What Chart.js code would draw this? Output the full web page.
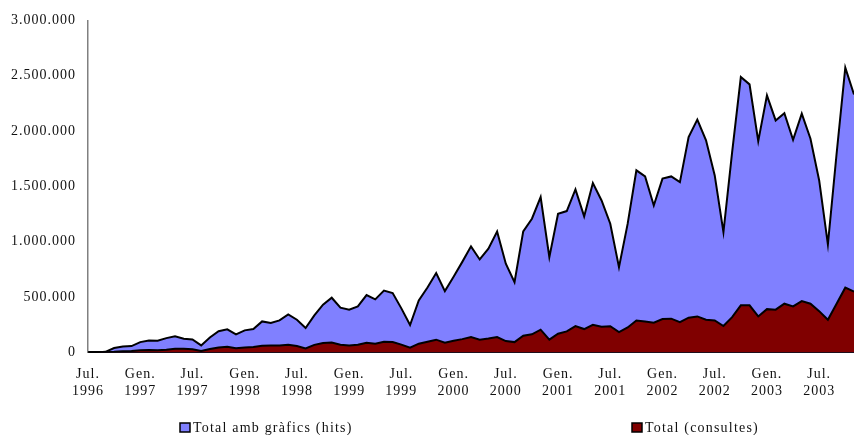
<!DOCTYPE html>
<html>
<head>
<meta charset="utf-8">
<script src="https://cdn.jsdelivr.net/npm/chart.js@4.4.1/dist/chart.umd.min.js"></script>
<style>
    html, body { margin: 0; padding: 0; background: #fff; }
    #divHits { width: 854px; height: 435px; }
</style>
</head>
<body>
<div id="divHits"><canvas id="hitsPerMonth"></canvas></div>
<script>
// month labels (Catalan), Jul. 1996 - Nov. 2003
var monthNames = ["Gen.", "Febr.", "Març", "Abr.", "Maig", "Juny", "Jul.", "Ag.", "Set.", "Oct.", "Nov.", "Des."];
var startYear = 1996;
var startMonth = 6;
var monthCount = 89;

var months = [];
for (var i = 0; i < monthCount; i++) {
    var m = (startMonth + i) % 12;
    var y = startYear + Math.floor((startMonth + i) / 12);
    months.push(monthNames[m] + " " + y);
}

// total amb gràfics (hits)
var hits = [
    0, 0, 5000, 39000, 54000, 57000, 93000, 108000, 106000, 129000,
    145000, 124000, 117000, 63000, 135000, 192000, 208000, 163000, 199000, 211000,
    280000, 265000, 289000, 343000, 295000, 220000, 334000, 431000, 494000, 404000,
    386000, 416000, 518000, 479000, 558000, 536000, 398000, 247000, 470000, 587000,
    717000, 554000, 683000, 818000, 958000, 840000, 937000, 1093000, 801000, 635000,
    1093000, 1208000, 1403000, 861000, 1253000, 1277000, 1473000, 1229000, 1530000, 1373000,
    1163000, 771000, 1163000, 1645000, 1590000, 1328000, 1570000, 1590000, 1539000, 1945000,
    2103000, 1916000, 1599000, 1087000, 1810000, 2488000, 2422000, 1909000, 2322000, 2096000,
    2162000, 1922000, 2157000, 1931000, 1554000, 976000, 1795000, 2573000, 2330000
];

// total (consultes)
var consultes = [
    0, 0, 2000, 5000, 10000, 12000, 20000, 22000, 20000, 25000,
    33000, 32000, 28000, 12000, 30000, 45000, 50000, 38000, 45000, 48000,
    60000, 62000, 63000, 70000, 57000, 35000, 68000, 84000, 90000, 70000,
    63000, 70000, 88000, 79000, 97000, 93000, 70000, 42000, 79000, 97000,
    115000, 88000, 105000, 120000, 138000, 115000, 125000, 138000, 102000, 93000,
    151000, 163000, 205000, 115000, 169000, 190000, 238000, 211000, 250000, 232000,
    236000, 183000, 225000, 289000, 280000, 268000, 301000, 305000, 274000, 314000,
    325000, 295000, 289000, 238000, 319000, 425000, 425000, 325000, 391000, 386000,
    440000, 416000, 464000, 440000, 373000, 295000, 440000, 585000, 550000
];

var yMax = 3000000;
var yStep = 500000;

var fontFamily = "'Liberation Serif', 'Times New Roman', serif";

function formatDots(v) {
    return String(v).replace(/\B(?=(\d{3})+(?!\d))/g, ".");
}

// legend drawn under the chart, items spread like the original
var bottomLegend = {
    id: "bottomLegend",
    beforeDraw: function (chart) {
        chart.ctx.letterSpacing = "1px";
    },
    afterDraw: function (chart) {
        var ctx = chart.ctx;
        var spots = [0.211, 0.74];
        ctx.save();
        ctx.letterSpacing = "1.2px";
        ctx.font = "14px " + fontFamily;
        ctx.textBaseline = "middle";
        ctx.textAlign = "left";
        chart.data.datasets.forEach(function (ds, k) {
            var x = Math.round(chart.width * spots[k]);
            var y = chart.height - 7;
            ctx.fillStyle = ds.backgroundColor;
            ctx.fillRect(x, y - 5, 10, 9);
            ctx.strokeStyle = "#000";
            ctx.lineWidth = 1.5;
            ctx.strokeRect(x, y - 5, 10, 9);
            ctx.fillStyle = "#111";
            ctx.fillText(ds.label, x + 13, y);
        });
        ctx.restore();
    },
};

var ctx = document.getElementById("hitsPerMonth").getContext("2d");
var chart = new Chart(ctx, {
    type: "line",
    data: {
        labels: months,
        datasets: [
            {
                label: "Total amb gràfics (hits)",
                data: hits,
                backgroundColor: "#8080ff",
                borderColor: "#000",
                borderWidth: 2,
                pointRadius: 0,
                fill: "origin",
                tension: 0,
                order: 2,
            },
            {
                label: "Total (consultes)",
                data: consultes,
                backgroundColor: "#800000",
                borderColor: "#000",
                borderWidth: 2,
                pointRadius: 0,
                fill: "origin",
                tension: 0,
                order: 1,
            },
        ],
    },
    options: {
        responsive: true,
        maintainAspectRatio: false,
        animation: false,
        layout: {
            padding: { top: 20, left: 0, right: 0, bottom: 21 },
        },
        plugins: {
            legend: { display: false },
            tooltip: { enabled: false },
        },
        scales: {
            x: {
                type: "category",
                offset: false,
                grid: { display: false, drawTicks: false },
                border: { color: "#000", width: 2 },
                afterFit: function (scale) {
                    scale.paddingRight = 0;
                    scale.paddingLeft = 0;
                },
                ticks: {
                    autoSkip: false,
                    maxRotation: 0,
                    minRotation: 0,
                    padding: 14,
                    color: "#111",
                    font: { family: fontFamily, size: 14, lineHeight: 1.2 },
                    callback: function (value, index) {
                        if (index % 6 !== 0) return "";
                        return this.getLabelForValue(value).split(" ");
                    },
                },
            },
            y: {
                min: 0,
                max: yMax,
                grid: { display: false, drawTicks: false },
                border: { color: "#808080", width: 1.5 },
                afterFit: function (scale) {
                    scale.width = 88;
                },
                ticks: {
                    stepSize: yStep,
                    padding: 12,
                    color: "#111",
                    font: { family: fontFamily, size: 14 },
                    callback: function (value) {
                        return formatDots(value);
                    },
                },
            },
        },
    },
    plugins: [bottomLegend],
});
</script>
</body>
</html>
